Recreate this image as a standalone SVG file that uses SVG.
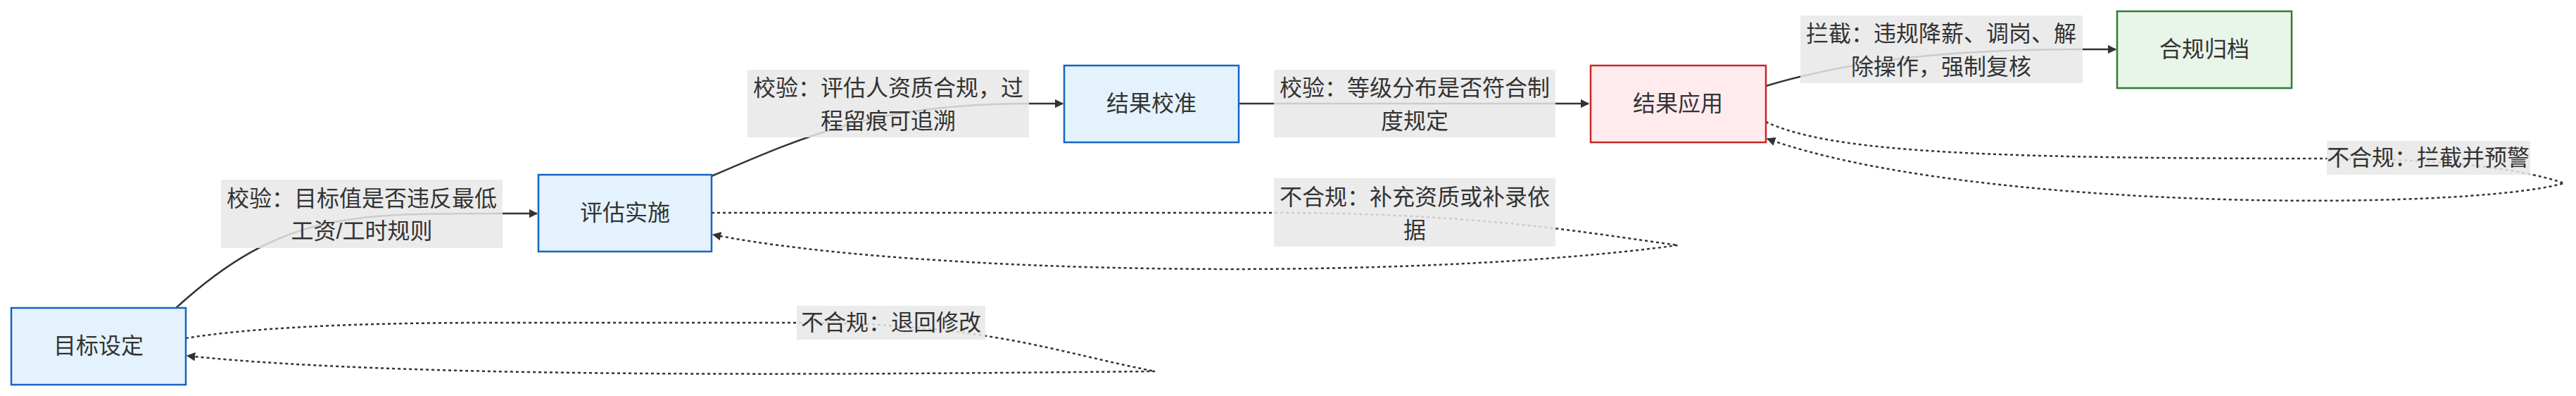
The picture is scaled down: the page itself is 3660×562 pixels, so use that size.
<svg xmlns="http://www.w3.org/2000/svg" width="3660" height="562" viewBox="0 0 3660 562">
<style>
.n rect{stroke-width:2.5}
.blue rect{fill:#e3f2fd;stroke:#1565c0}
.red rect{fill:#ffebee;stroke:#c62828}
.green rect{fill:#e8f5e9;stroke:#2e7d32}
text{font-family:"Liberation Sans","Noto Sans CJK SC",sans-serif;font-size:32px;fill:#333;text-anchor:middle;dominant-baseline:central}
.e{fill:none;stroke:#333;stroke-width:2.5}
.d{stroke-dasharray:4,4}
.lb{fill:#e8e8e8;opacity:0.85}
</style>
<defs><marker id="a" viewBox="0 0 10 10" refX="9" refY="5" markerWidth="5" markerHeight="5" orient="auto" markerUnits="strokeWidth"><path d="M0,0L10,5L0,10z" fill="#333"/></marker></defs>
<rect width="3660" height="562" fill="#fff"/>
<g id="edges">
<path class="e" d="M249,438 C400,300 500,303 715,303 L763,303" marker-end="url(#a)"/>
<path class="e" d="M1011,250 C1150,190 1250,147 1462,147 L1510,147" marker-end="url(#a)"/>
<path class="e" d="M1760,147 L2257,147" marker-end="url(#a)"/>
<path class="e" d="M2509,122 C2650,80 2800,70 2959,70 L3006,70" marker-end="url(#a)"/>
<path class="e d" d="M264,480 Q400,458 700,458 L1130,458 C1400,458 1500,500 1641,527 C1300,530 600,540 266,505" marker-end="url(#a)"/>
<path class="e d" d="M1011,302 L1810,302 C2100,302 2250,330 2384,348 C2000,400 1300,390 1013,333" marker-end="url(#a)"/>
<path class="e d" d="M2509,173 C2600,215 2800,225 3306,225 C3500,225 3600,245 3643,260 C3500,300 2800,300 2511,197" marker-end="url(#a)"/>
</g>
<g id="labels">
<rect class="lb" x="314" y="255" width="400" height="97"/><text x="514" y="282">校验：目标值是否违反最低</text><text x="514" y="328">工资/工时规则</text>
<rect class="lb" x="1062" y="99" width="400" height="96"/><text x="1262" y="125">校验：评估人资质合规，过</text><text x="1262" y="172">程留痕可追溯</text>
<rect class="lb" x="1810" y="99" width="400" height="96"/><text x="2010" y="125">校验：等级分布是否符合制</text><text x="2010" y="172">度规定</text>
<rect class="lb" x="1810" y="253" width="400" height="97"/><text x="2010" y="280">不合规：补充资质或补录依</text><text x="2010" y="327">据</text>
<rect class="lb" x="1132" y="434" width="268" height="48"/><text x="1266" y="458">不合规：退回修改</text>
<rect class="lb" x="2558" y="22" width="401" height="96"/><text x="2758" y="48">拦截：违规降薪、调岗、解</text><text x="2758" y="95">除操作，强制复核</text>
<rect class="lb" x="3306" y="200" width="289" height="48"/><text x="3450" y="224">不合规：拦截并预警</text>
</g>
<g id="n1" class="n blue"><rect x="16" y="437" width="248" height="109"/><text x="140" y="491">目标设定</text></g>
<g id="n2" class="n blue"><rect x="765" y="248" width="246" height="109"/><text x="888" y="302">评估实施</text></g>
<g id="n3" class="n blue"><rect x="1512" y="93" width="248" height="109"/><text x="1636" y="147">结果校准</text></g>
<g id="n4" class="n red"><rect x="2260" y="93" width="249" height="109"/><text x="2384" y="147">结果应用</text></g>
<g id="n5" class="n green"><rect x="3008" y="16" width="248" height="109"/><text x="3132" y="70">合规归档</text></g>
</svg>
